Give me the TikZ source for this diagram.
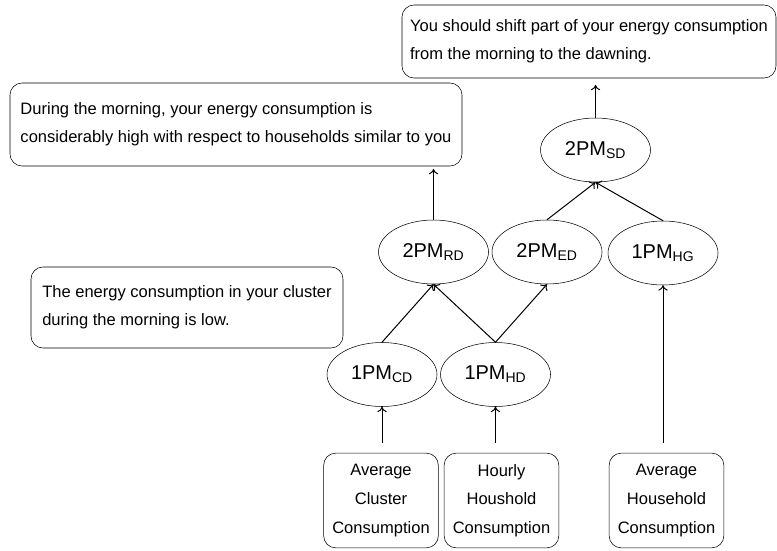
\documentclass[tikz,border=0pt]{standalone}
\usepackage{fontspec}
\setmainfont{Liberation Sans}
\usetikzlibrary{positioning,arrows.meta,shapes.geometric}

\begin{document}
\begin{tikzpicture}[
  x=0.75pt, y=-0.75pt,
  msg/.style={draw, rounded corners=9pt, align=left, font=\fontsize{12.4}{21}\selectfont, inner sep=3pt},
  pm/.style={draw, ellipse, minimum width=82.5pt, minimum height=48pt, inner sep=0pt, font=\fontsize{15}{18}\selectfont},
  src/.style={draw, rounded corners=9pt, align=center, font=\fontsize{12.4}{21.4}\selectfont, minimum width=86pt, minimum height=71pt, inner sep=2pt},
  arr/.style={-{To[length=4pt,width=7pt]}, line width=0.75pt}
]
\useasboundingbox (0,0) rectangle (777,550);

% explanations
\node[msg, minimum width=280.5pt, minimum height=54.75pt] (advice) at (589,41.5)
  {You should shift part of your energy consumption\\from the morning to the dawning.};
\node[msg, minimum width=339pt, minimum height=62.25pt] (during) at (236,124.5)
  {During the morning, your energy consumption is\\considerably high with respect to households similar to you};
\node[msg, minimum width=234pt, minimum height=60.75pt] (cluster) at (187,307.5)
  {The energy consumption in your cluster\\during the morning is low.};

% protoforms
\node[pm] (sd) at (595.5,150) {2PM\textsubscript{SD}};
\node[pm] (rd) at (433.5,252) {2PM\textsubscript{RD}};
\node[pm] (ed) at (547,252) {2PM\textsubscript{ED}};
\node[pm] (hg) at (663,253) {1PM\textsubscript{HG}};
\node[pm] (cd) at (382,374.5) {1PM\textsubscript{CD}};
\node[pm] (hd) at (495.5,374.5) {1PM\textsubscript{HD}};

% data
\node[src] (avgc) at (381,500.5) {Average\\Cluster\\Consumption};
\node[src] (hourly) at (501.5,500.5) {Hourly\\Houshold\\Consumption};
\node[src] (avgh) at (666.5,500.5) {Average\\Household\\Consumption};

\draw[arr, shorten <=7.5pt] (cd |- avgc.north) -- (cd.south);
\draw[arr, shorten <=7.5pt] (hd |- hourly.north) -- (hd.south);
\draw[arr, shorten <=7.5pt] (hg |- avgh.north) -- (hg.south);
\draw[arr] (cd.north) -- (rd.south);
\draw[arr] (hd.north) -- (rd.south);
\draw[arr] (hd.north) -- (ed.south);
\draw[arr] (ed.north) -- (sd.south);
\draw[arr] (hg.north) -- (sd.south);
\draw[arr, shorten >=2pt] (rd.north) -- (rd |- during.south);
\draw[arr, shorten >=5pt] (sd.north) -- (sd |- advice.south);
\end{tikzpicture}
\end{document}
